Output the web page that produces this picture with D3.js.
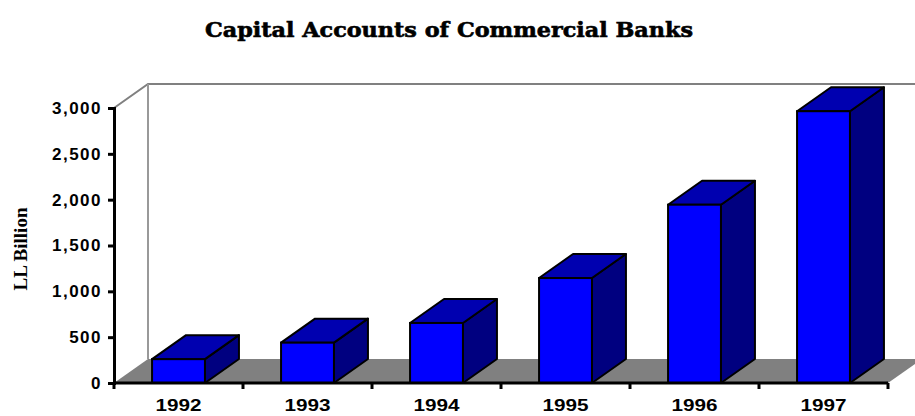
<!DOCTYPE html>
<html>
<head>
<meta charset="utf-8">
<script src="https://cdn.jsdelivr.net/npm/d3@7"></script>
<style>
  body { margin: 0; background: #fff; }
  svg { display: block; }
</style>
</head>
<body>
<script>
var width = 915;
var height = 416;

// data
var years = ["1992", "1993", "1994", "1995", "1996", "1997"];
var capital = [260, 440, 655, 1145, 1945, 2965];
var yTicks = [0, 500, 1000, 1500, 2000, 2500, 3000];

// plot box (front plane) and 3d depth offset
var plotLeft = 114, plotRight = 888, plotBottom = 383, plotTop = 108;
var depthX = 34, depthY = -24;

var svg = d3.select("body").append("svg")
    .attr("width", width)
    .attr("height", height);

var x = d3.scaleBand().domain(years).range([plotLeft, plotRight]).padding(0);
var y = d3.scaleLinear().domain([0, 3000]).range([plotBottom, plotTop]);
var barW = x.bandwidth() * 0.41;

// back wall outline
svg.append("path")
    .attr("d", "M" + plotLeft + "," + plotTop + "L" + (plotLeft + depthX) + "," + (plotTop + depthY) +
        "L" + (width + 5) + "," + (plotTop + depthY))
    .attr("fill", "none")
    .attr("stroke", "#808080")
    .attr("stroke-width", 2);
svg.append("line")
    .attr("x1", plotLeft + depthX).attr("y1", plotTop + depthY)
    .attr("x2", plotLeft + depthX).attr("y2", plotBottom + depthY)
    .attr("stroke", "#999")
    .attr("stroke-width", 2);

// floor
svg.append("polygon")
    .attr("points", [[plotLeft, plotBottom], [plotRight, plotBottom],
        [plotRight + depthX, plotBottom + depthY], [plotLeft + depthX, plotBottom + depthY]].join(" "))
    .attr("fill", "#808080");

// bars
var bars = svg.selectAll("g.bar")
    .data(years.map(function(d, i) { return {year: d, value: capital[i]}; }))
    .enter().append("g")
    .attr("class", "bar");

function bx(d) { return x(d.year) + (x.bandwidth() - barW) / 2; }

// side face
bars.append("polygon")
    .attr("points", function(d) {
        var x0 = bx(d), yt = y(d.value);
        return [[x0 + barW, yt], [x0 + barW + depthX, yt + depthY],
            [x0 + barW + depthX, plotBottom + depthY], [x0 + barW, plotBottom]].join(" ");
    })
    .attr("fill", "#000080")
    .attr("stroke", "#000")
    .attr("stroke-width", 2)
    .attr("stroke-linejoin", "round");

// top face
bars.append("polygon")
    .attr("points", function(d) {
        var x0 = bx(d), yt = y(d.value);
        return [[x0, yt], [x0 + depthX, yt + depthY], [x0 + barW + depthX, yt + depthY], [x0 + barW, yt]].join(" ");
    })
    .attr("fill", "#0000b0")
    .attr("stroke", "#000")
    .attr("stroke-width", 2)
    .attr("stroke-linejoin", "round");

// front face
bars.append("rect")
    .attr("x", bx)
    .attr("y", function(d) { return y(d.value); })
    .attr("width", barW)
    .attr("height", function(d) { return plotBottom - y(d.value); })
    .attr("fill", "#0000ff")
    .attr("stroke", "#000")
    .attr("stroke-width", 2);

// y axis
var yAxis = svg.append("g")
    .attr("transform", "translate(" + plotLeft + ",0)")
    .call(d3.axisLeft(y).tickValues(yTicks).tickFormat(d3.format(",")).tickSize(6).tickPadding(6));
yAxis.select(".domain").attr("stroke", "#000").attr("stroke-width", 3);
yAxis.selectAll(".tick line").attr("stroke", "#000").attr("stroke-width", 3);
yAxis.selectAll(".tick text")
    .attr("font-family", "Arial, 'Liberation Sans', sans-serif")
    .attr("font-weight", "bold")
    .attr("font-size", 17)
    .attr("letter-spacing", 1.5)
    .attr("fill", "#000");

// x axis
svg.append("line")
    .attr("x1", plotLeft).attr("y1", plotBottom)
    .attr("x2", plotRight).attr("y2", plotBottom)
    .attr("stroke", "#000")
    .attr("stroke-width", 3);
svg.selectAll("line.xtick")
    .data(years.concat(["end"]))
    .enter().append("line")
    .attr("class", "xtick")
    .attr("x1", function(d, i) { return plotLeft + i * x.step(); })
    .attr("x2", function(d, i) { return plotLeft + i * x.step(); })
    .attr("y1", plotBottom)
    .attr("y2", plotBottom + 6)
    .attr("stroke", "#000")
    .attr("stroke-width", 3);
svg.selectAll("text.year")
    .data(years)
    .enter().append("text")
    .attr("class", "year")
    .attr("x", function(d) { return x(d) + x.bandwidth() / 2; })
    .attr("y", 411)
    .attr("text-anchor", "middle")
    .attr("font-family", "Arial, 'Liberation Sans', sans-serif")
    .attr("font-weight", "bold")
    .attr("font-size", 16)
    .attr("textLength", 46)
    .attr("lengthAdjust", "spacingAndGlyphs")
    .text(function(d) { return d; });

// y axis title
svg.append("text")
    .attr("transform", "translate(27,249) rotate(-90)")
    .attr("text-anchor", "middle")
    .attr("font-family", "'Liberation Serif', 'Times New Roman', serif")
    .attr("font-weight", "bold")
    .attr("font-size", 19)
    .attr("textLength", 83)
    .attr("lengthAdjust", "spacingAndGlyphs")
    .text("LL Billion");

// title
svg.append("text")
    .attr("x", 449)
    .attr("y", 37)
    .attr("text-anchor", "middle")
    .attr("font-family", "'DejaVu Serif', serif")
    .attr("font-weight", "bold")
    .attr("font-size", 21)
    .attr("stroke", "#000")
    .attr("stroke-width", 0.6)
    .attr("textLength", 488)
    .attr("lengthAdjust", "spacingAndGlyphs")
    .text("Capital Accounts of Commercial Banks");
</script>
</body>
</html>
